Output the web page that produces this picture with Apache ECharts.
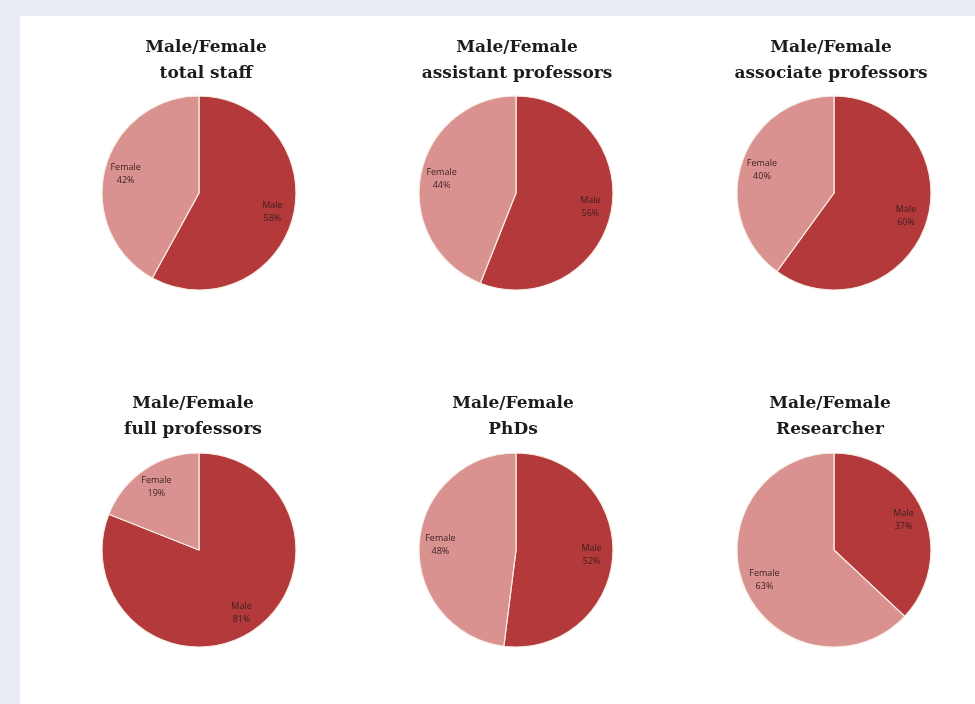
<!DOCTYPE html>
<html><head><meta charset="utf-8">
<script src="https://cdn.jsdelivr.net/npm/echarts@6/dist/echarts.min.js"></script>
<style>html,body{margin:0;padding:0;background:#e8ecf4}#c{width:975px;height:704px}</style>
</head><body><div id="c"></div>
<script>
const categories = ['Male', 'Female'];
const chartTitles = ['total staff', 'assistant professors', 'associate professors', 'full professors', 'PhDs', 'Researcher'];
const maleValues = [58, 56, 60, 81, 52, 37];
const femaleValues = [42, 44, 40, 19, 48, 63];

const centers = [[199,193],[516,193],[834,193],[199,550],[516,550],[834,550]];
const titleCenters = [201, 512, 826, 188, 508, 825];
const titleTops = [30, 30, 30, 386, 386, 386];
const R = 97;
const colors = ['#b3393b', '#d99290'];

const series = [];
const titles = [];
chartTitles.forEach((t, i) => {
  const data = categories.map((c, k) => ({ name: c, value: k === 0 ? maleValues[i] : femaleValues[i] }));
  series.push({
    type: 'pie', center: centers[i], radius: [0, R], startAngle: 90, clockwise: true,
    silent: true, animation: false,
    color: colors,
    itemStyle: { borderColor: '#f6eee6', borderWidth: 1.2 },
    label: { show: false }, labelLine: { show: false },
    data: data
  });
  series.push({
    type: 'pie', center: centers[i], radius: [R * 0.5, R], startAngle: 90, clockwise: true,
    silent: true, animation: false,
    itemStyle: { color: 'rgba(0,0,0,0)', borderWidth: 0 },
    label: { show: true, position: 'inside', formatter: '{b}\n{c}%', fontFamily: 'Open Sans', fontSize: 9, lineHeight: 13, color: '#3a1f1f' },
    labelLine: { show: false },
    data: data
  });
  titles.push({
    text: 'Male/Female\n' + t, left: titleCenters[i], top: titleTops[i], textAlign: 'center',
    textStyle: { fontFamily: 'DejaVu Serif', fontWeight: 'bold', fontSize: 17, lineHeight: 26, color: '#1c1c1c' }
  });
});

const chart = echarts.init(document.getElementById('c'), null, { renderer: 'canvas' });
chart.setOption({
  backgroundColor: '#e8ecf4',
  animation: false,
  graphic: [{ type: 'rect', shape: { x: 20, y: 16, width: 960, height: 700 }, style: { fill: '#ffffff' }, z: -10 }],
  title: titles,
  series: series
});
</script></body></html>
